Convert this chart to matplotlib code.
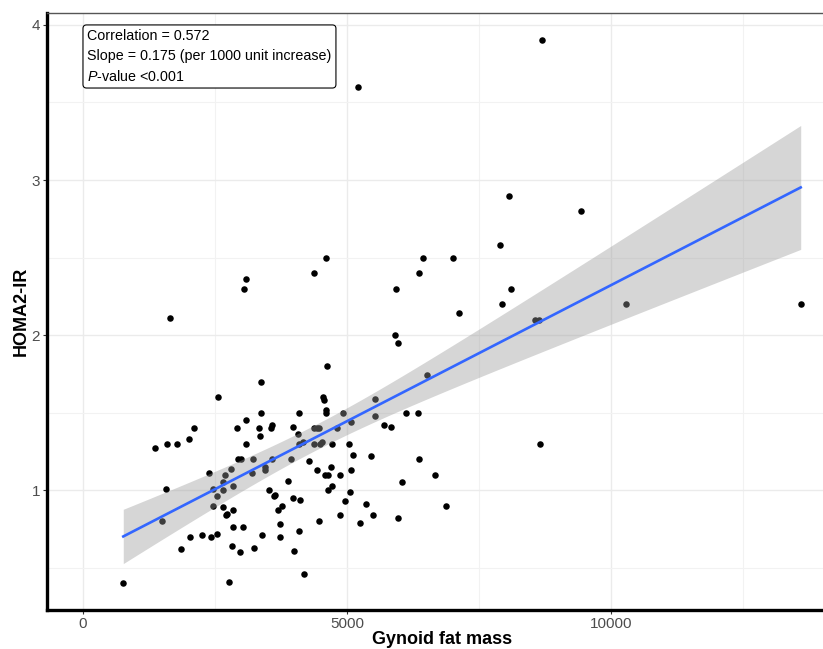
import numpy as np
import matplotlib
matplotlib.use('Agg')
import matplotlib.pyplot as plt

# valores (massa de gordura ginoide x HOMA2-IR)
gynoid_fat = [763, 1363, 1584, 1774, 2007, 2101, 1571, 1495, 1855, 2031, 2247, 2423, 2546, 2385,
              2561, 2470, 2533, 2467, 2645, 2650, 2694, 2805, 2834, 2650, 2836, 2735, 2701, 2845,
              3023, 2830, 2966, 2764, 2921, 3086, 3086, 2934, 3000, 3218, 3193, 3243, 3370, 3375,
              3326, 3356, 3572, 3565, 3578, 3445, 3455, 3388, 3525, 3635, 3616, 3761, 3686, 3735,
              3723, 3981, 4093, 4074, 4085, 4161, 3932, 3884, 3979, 4114, 4095, 3989, 4180, 4282,
              4379, 4435, 4462, 4382, 4496, 4534, 4439, 4471, 4539, 4553, 4594, 4600, 4625, 4572,
              4647, 4704, 4708, 4803, 4723, 4638, 4856, 4856, 4922, 4963, 5039, 5079, 5117, 5079,
              5058, 5253, 5357, 5448, 5495, 5533, 5533, 5694, 5834, 5910, 5959, 6035, 5969, 6109,
              6345, 6370, 6518, 8657, 6667, 6866, 8547, 8623, 8683, 8070, 9433, 7900, 6431, 7010,
              6355, 8108, 7932, 7112, 10279, 13586, 5200, 1653, 3053, 3086, 4379, 4594, 5919]
homa2_ir = [0.40, 1.27, 1.30, 1.30, 1.33, 1.40, 1.01, 0.80, 0.62, 0.70, 0.71, 0.70, 0.72, 1.11,
            1.60, 1.01, 0.96, 0.90, 1.00, 1.05, 1.10, 1.14, 1.03, 0.89, 0.87, 0.85, 0.84, 0.76,
            0.76, 0.64, 0.60, 0.41, 1.40, 1.45, 1.30, 1.20, 1.20, 1.20, 1.11, 0.63, 1.70, 1.50,
            1.40, 1.35, 1.42, 1.40, 1.20, 1.15, 1.13, 0.71, 1.00, 0.97, 0.96, 0.90, 0.87, 0.78,
            0.70, 1.41, 1.50, 1.36, 1.30, 1.31, 1.20, 1.06, 0.95, 0.94, 0.74, 0.61, 0.46, 1.19,
            1.40, 1.40, 1.40, 1.30, 1.30, 1.31, 1.13, 0.80, 1.60, 1.58, 1.52, 1.50, 1.80, 1.10,
            1.10, 1.15, 1.30, 1.40, 1.03, 1.00, 1.10, 0.84, 1.50, 0.93, 1.30, 1.44, 1.23, 1.13,
            0.99, 0.79, 0.91, 1.22, 0.84, 1.59, 1.48, 1.42, 1.41, 2.00, 1.95, 1.05, 0.82, 1.50,
            1.50, 1.20, 1.74, 1.30, 1.10, 0.90, 2.10, 2.10, 3.90, 2.90, 2.80, 2.58, 2.50, 2.50,
            2.40, 2.30, 2.20, 2.14, 2.20, 2.20, 3.60, 2.11, 2.30, 2.36, 2.40, 2.50, 2.30]

x_ticks = [0, 5000, 10000]
y_ticks = [1, 2, 3, 4]
stats_lines = ['Correlation = 0.572',
               'Slope = 0.175 (per 1000 unit increase)',
               '$\\mathit{P}$-value <0.001']


def main():
    plt.rcParams['font.family'] = ['Liberation Sans', 'DejaVu Sans']
    plt.rcParams['mathtext.fontset'] = 'custom'
    plt.rcParams['mathtext.rm'] = 'Liberation Sans'
    plt.rcParams['mathtext.it'] = 'Liberation Sans:italic'

    x = np.array(gynoid_fat, dtype=float)
    y = np.array(homa2_ir, dtype=float)

    fig = plt.figure(figsize=(8.23, 6.49), dpi=100)
    ax = fig.add_axes([0.0571, 0.0601, 0.9429, 0.9199])

    ax.scatter(x, y, s=22, color='black', linewidths=0, zorder=3)

    # reta de regressao + intervalo de 95% (como geom_smooth(method='lm'))
    n = len(x)
    slope, intercept = np.polyfit(x, y, 1)
    xs = np.linspace(x.min(), x.max(), 200)
    fit = intercept + slope * xs
    resid = y - (intercept + slope * x)
    s = np.sqrt(np.sum(resid ** 2) / (n - 2))
    sxx = np.sum((x - x.mean()) ** 2)
    se = s * np.sqrt(1.0 / n + (xs - x.mean()) ** 2 / sxx)
    t = 1.977
    ax.fill_between(xs, fit - t * se, fit + t * se, color='#999999', alpha=0.4,
                    linewidth=0, zorder=4)
    ax.plot(xs, fit, color='#3366FF', linewidth=1.9, zorder=5)

    ax.set_xlim(-681, 14008)
    ax.set_ylim(0.228, 4.077)
    ax.set_xticks(x_ticks)
    ax.set_yticks(y_ticks)
    ax.set_xticks([2500, 7500, 12500], minor=True)
    ax.set_yticks([0.5, 1.5, 2.5, 3.5], minor=True)
    ax.grid(True, which='major', color='#EBEBEB', linewidth=1.0, zorder=0)
    ax.grid(True, which='minor', color='#F2F2F2', linewidth=0.8, zorder=0)
    ax.set_axisbelow(True)
    ax.tick_params(which='major', length=3, width=0.8, color='#333333',
                   labelsize=11, labelcolor='#4D4D4D', pad=2)
    ax.tick_params(which='minor', length=0)

    for side in ['left', 'bottom']:
        ax.spines[side].set_linewidth(2.4)
        ax.spines[side].set_color('black')
    ax.spines['top'].set_linewidth(1.0)
    ax.spines['top'].set_color('#555555')
    ax.spines['right'].set_visible(False)

    ax.set_xlabel('Gynoid fat mass', fontsize=13, fontweight='bold', labelpad=3)
    ax.set_ylabel('HOMA2-IR', fontsize=13, fontweight='bold', labelpad=1)
    ax.xaxis.set_label_coords(0.509, -0.036, transform=ax.transAxes)
    ax.xaxis.label.set_va('top')

    ax.annotate('\n'.join(stats_lines), xy=(0, 4), xytext=(3.1, -3.1),
                textcoords='offset points', ha='left', va='top', fontsize=10.3,
                linespacing=1.5, zorder=6,
                bbox=dict(boxstyle='round,pad=0.3,rounding_size=0.25',
                          facecolor='white', edgecolor='black', linewidth=0.8))

    fig.savefig('out.png', dpi=100)
    plt.close(fig)


if __name__ == "__main__":
    main()
